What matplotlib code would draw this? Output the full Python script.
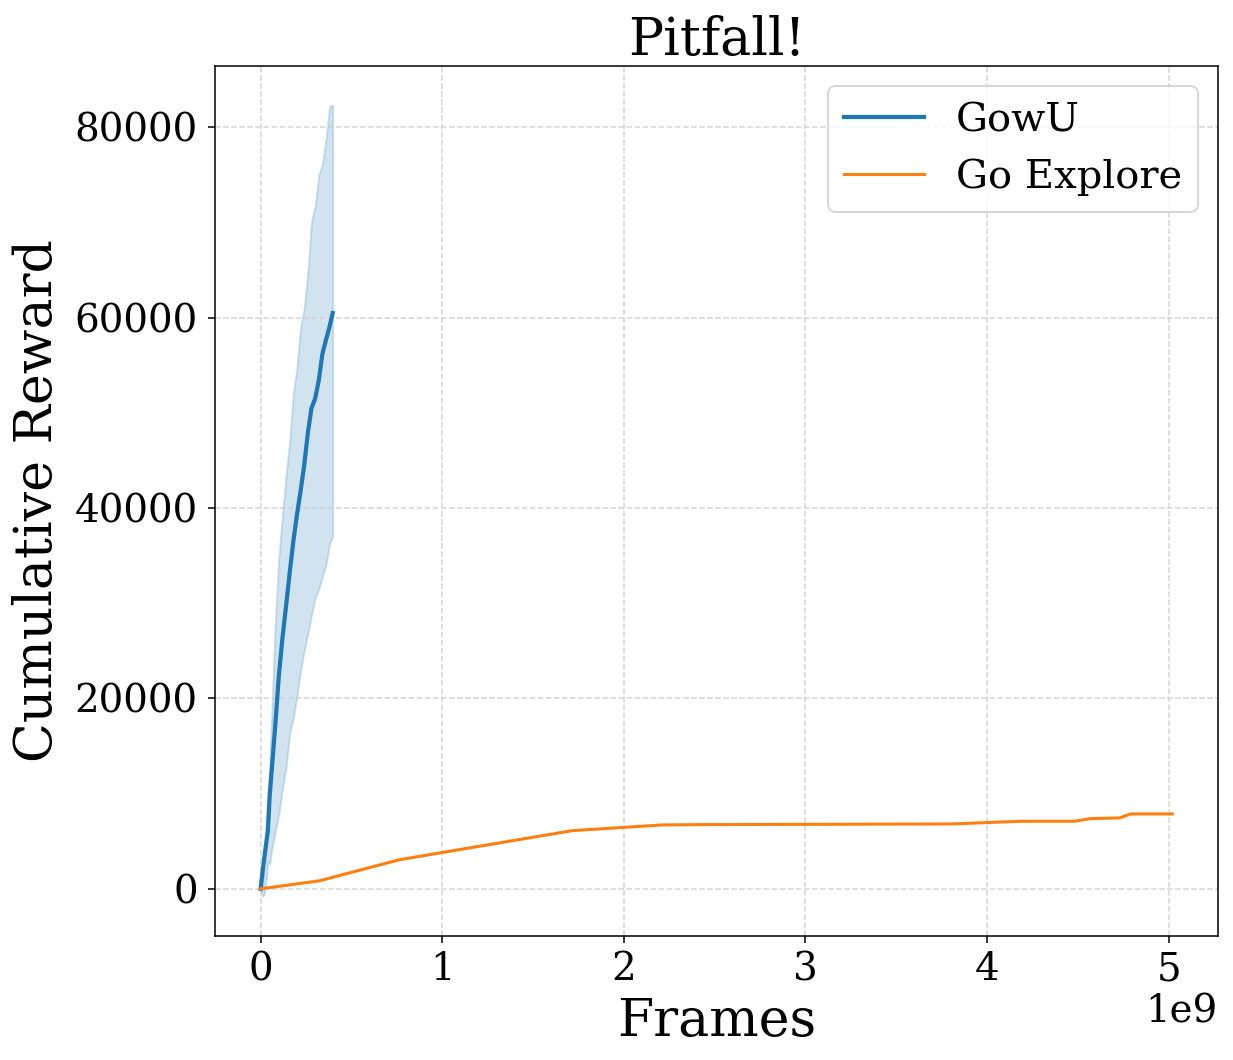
import numpy as np
import matplotlib
matplotlib.use("Agg")
import matplotlib.pyplot as plt

plt.rcParams['font.family'] = ['DejaVu Serif']

# GowU (frames in units of 1e9)
gowu_x = [0, 0.01, 0.02, 0.03, 0.04, 0.05, 0.065, 0.08, 0.1, 0.12, 0.14, 0.16,
          0.18, 0.2, 0.22, 0.24, 0.26, 0.28, 0.3, 0.32, 0.34, 0.36, 0.38, 0.397]
gowu_mean = [0, 1700, 3200, 4700, 6100, 9800, 13400, 17000, 22300, 26300, 29700, 33200,
             36500, 39300, 41800, 44500, 47900, 50500, 51500, 53400, 56200, 57700, 59100, 60500]
gowu_upper = [0, 0, 3400, 7000, 9900, 13100, 20200, 27800, 34800, 39300, 43500, 47000,
              52100, 54800, 59000, 61000, 64800, 70100, 71700, 75000, 76100, 78800, 82300, 82300]
gowu_lower = [0, -800, -600, 800, 2950, 2600, 4500, 6000, 7800, 10500, 12700, 16300,
              18000, 20200, 22900, 25000, 26800, 28700, 30500, 31500, 32800, 34000, 36300, 37000]

# Go Explore
ge_x = [0, 0.324, 0.764, 1.716, 2.21, 2.41, 3.80, 4.19, 4.48, 4.57, 4.73, 4.79, 5.02]
ge_y = [0, 843, 3057, 6113, 6713, 6745, 6816, 7100, 7100, 7380, 7450, 7870, 7870]

dpi = 137
fig = plt.figure(figsize=(1233 / dpi, 1060 / dpi), dpi=dpi)
ax = fig.add_axes([0.1744, 0.117, 0.8134, 0.8207])

gx = np.array(gowu_x) * 1e9
ax.plot(gx, gowu_mean, color='#1f77b4', lw=2.2, label='GowU')
ax.fill_between(gx, gowu_lower, gowu_upper, color='#1f77b4', alpha=0.2)
ax.plot(np.array(ge_x) * 1e9, ge_y, color='#ff7f0e', lw=1.6, label='Go Explore')

ax.grid(True, linestyle='--', color='#cccccc', alpha=0.8, lw=0.8)
ax.set_title('Pitfall!', fontsize=27.4)
ax.set_xlabel('Frames', fontsize=27.4)
ax.set_ylabel('Cumulative Reward', fontsize=27.4, labelpad=6)
ax.tick_params(labelsize=20.4, pad=4.5)
ax.tick_params(axis='y', pad=5.5)
ax.xaxis.get_offset_text().set_fontsize(20.4)
ax.set_yticks([0, 20000, 40000, 60000, 80000])
ax.legend(loc='upper right', fontsize=21, handlelength=2.0)

fig.savefig('out.png', dpi=dpi)
